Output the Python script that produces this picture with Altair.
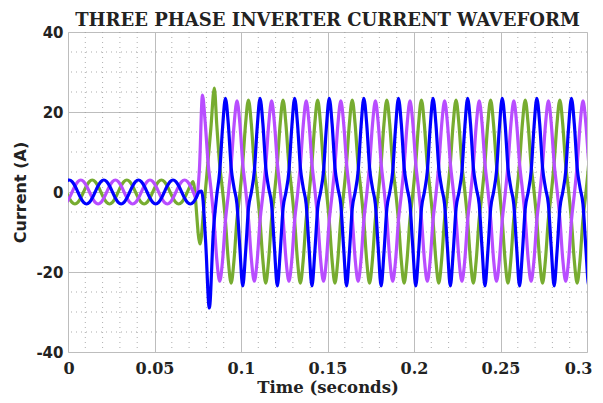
import altair as alt
import pandas as pd

# ---------------- data ----------------
PERIOD = 0.02                 # s (50 Hz)
SAMPLES_PER_CYCLE = 12        # samples every 30 degrees, starting at a positive peak
T_START, T_END = 0.0, 0.3

PHASES = ["Phase A", "Phase B", "Phase C"]
COLORS = ["#0000FF", "#B84DFF", "#77AC30"]   # blue, purple, green

# pre-transition: one cycle (A) starting at the positive peak
PRE_CYCLE = [3.0, 2.6, 1.5, 0.0, -1.5, -2.6, -3.0, -2.6, -1.5, 0.0, 1.5, 2.6]
PRE_PEAK_T = [0.0007, 0.0074, 0.0140]
PRE_END_T = [0.0758, 0.0745, 0.0735]

# transient points after the step (time s, current A)
TRANS_T = [
    [0.0773, 0.0795, 0.0817, 0.0840, 0.0860],
    [0.0760, 0.0777],
    [0.0763, 0.0785, 0.0806, 0.0826, 0.0846],
]
TRANS_I = [
    [0.2, -12.0, -29.0, -10.0, -0.8],
    [6.0, 24.2],
    [-13.0, -4.0, 6.0, 16.0, 26.0],
]

# steady state: one cycle (A) starting at the positive peak
POST_CYCLE = [
    [23.4, 17.0, 6.0, 1.0, -3.0, -14.0, -23.5, -15.0, -4.0, 0.0, 5.0, 16.0],
    [22.8, 17.0, 7.0, 0.5, -7.0, -17.0, -22.3, -17.0, -7.0, -0.5, 7.0, 17.0],
    [23.0, 17.0, 7.0, 0.5, -7.0, -17.0, -22.8, -17.0, -7.0, -0.5, 7.0, 17.0],
]
POST_PEAK_T = [0.0110, 0.0177, 0.0043]

X_TICKS = [0, 0.05, 0.1, 0.15, 0.2, 0.25, 0.3]
Y_TICKS = [-40, -20, 0, 20, 40]
X_MINOR = [0.01, 0.02, 0.03, 0.04, 0.06, 0.07, 0.08, 0.09, 0.11, 0.12, 0.13, 0.14,
           0.16, 0.17, 0.18, 0.19, 0.21, 0.22, 0.23, 0.24, 0.26, 0.27, 0.28, 0.29]
Y_MINOR = [-35, -30, -25, -15, -10, -5, 5, 10, 15, 25, 30, 35]

# ---------------- build the table ----------------
rows = []
dt = PERIOD / SAMPLES_PER_CYCLE
for p, name in enumerate(PHASES):
    pts = []
    j = -SAMPLES_PER_CYCLE
    while True:
        t = PRE_PEAK_T[p] + j * dt
        if t > PRE_END_T[p]:
            break
        pts.append((t, PRE_CYCLE[j % SAMPLES_PER_CYCLE]))
        j += 1
    pts += list(zip(TRANS_T[p], TRANS_I[p]))
    last = TRANS_T[p][-1]
    j = 0
    while True:
        t = POST_PEAK_T[p] + j * dt
        if t > T_END + 2 * dt:
            break
        if t > last + 1e-5:
            pts.append((t, POST_CYCLE[p][j % SAMPLES_PER_CYCLE]))
        j += 1
    for t, v in pts:
        rows.append({"t": t, "i": v, "phase": name})

df = pd.DataFrame(rows)

x_scale = alt.Scale(domain=[T_START, T_END], nice=False, zero=False)
y_scale = alt.Scale(domain=[-40, 40], nice=False)

serif = "DejaVu Serif"
sans = "DejaVu Sans"

minor_x = alt.Chart(pd.DataFrame({"t": X_MINOR})).mark_rule(
    color="#9a9a9a", strokeWidth=1, strokeDash=[1, 4], opacity=0.8
).encode(x=alt.X("t:Q", scale=x_scale))

minor_y = alt.Chart(pd.DataFrame({"i": Y_MINOR})).mark_rule(
    color="#9a9a9a", strokeWidth=1, strokeDash=[1, 4], opacity=0.8
).encode(y=alt.Y("i:Q", scale=y_scale))

lines = alt.Chart(df).mark_line(
    strokeWidth=3.2, interpolate="monotone", clip=True
).encode(
    x=alt.X(
        "t:Q", scale=x_scale,
        axis=alt.Axis(
            values=X_TICKS, format="~g", title="Time (seconds)",
            grid=True, gridColor="#bdbdbd", gridWidth=1,
            ticks=False, domain=False, labelPadding=8,
            labelFont=serif, labelFontSize=16, labelFontWeight="bold", labelColor="#222",
            titleFont=serif, titleFontSize=16.5, titleFontWeight="bold", titleColor="#222",
            titlePadding=3, labelFlush=True, labelFlushOffset=5,
        ),
    ),
    y=alt.Y(
        "i:Q", scale=y_scale,
        axis=alt.Axis(
            values=Y_TICKS, title="Current (A)", labelExpr="datum.value + ''",
            grid=True, gridColor="#bdbdbd", gridWidth=1,
            ticks=False, domain=False, labelPadding=5,
            labelFont=sans, labelFontSize=15, labelFontWeight="bold", labelColor="#222",
            titleFont=sans, titleFontSize=16, titleFontWeight="bold", titleColor="#222",
            titlePadding=7, labelFlush=False,
        ),
    ),
    color=alt.Color("phase:N", scale=alt.Scale(domain=PHASES, range=COLORS), legend=None),
    order=alt.Order("t:Q"),
    detail="phase:N",
)

layers = [minor_x, minor_y]
for name in ["Phase C", "Phase B", "Phase A"]:
    layers.append(lines.transform_filter(alt.datum.phase == name))

chart = alt.layer(*layers).properties(
    width=519,
    height=320,
    title=alt.TitleParams(
        "THREE PHASE INVERTER CURRENT WAVEFORM",
        font=serif, fontSize=18, fontWeight="bold", color="#222",
        anchor="middle", offset=-5,
    ),
    autosize=alt.AutoSizeParams(type="none"),
    padding={"left": 60, "top": 24, "right": 8, "bottom": 50},
).configure_view(
    stroke="#222", strokeWidth=1.5
).configure(background="white")

chart.save("out.html", embed_options={"renderer": "svg", "actions": False})
